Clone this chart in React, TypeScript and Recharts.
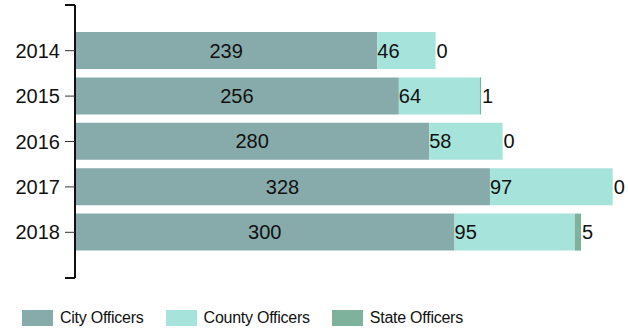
import React from 'react';
import { BarChart, Bar, XAxis, YAxis, LabelList, Legend, Customized } from 'recharts';

const years = ['2014', '2015', '2016', '2017', '2018'];
const cityOfficers = [239, 256, 280, 328, 300];
const countyOfficers = [46, 64, 58, 97, 95];
const stateOfficers = [0, 1, 0, 0, 5];

const seriesNames = ['City Officers', 'County Officers', 'State Officers'];
const seriesColors = ['#87abaa', '#a6e4db', '#7fb29c'];

const data = years.map((y, i) => ({
  year: y,
  city: cityOfficers[i],
  county: countyOfficers[i],
  state: stateOfficers[i],
}));

const W = 628;
const H = 328;
const MARGIN = { top: 5, right: 9, left: 0, bottom: 0 };
const Y_AXIS_W = 75;
const LEGEND_H = 50;
const FONT = 'Arial, "Liberation Sans", sans-serif';
const LABEL_SIZE = 20;

const renderLegend = (props: any) => {
  const payload = props.payload || [];
  return (
    <div
      style={{
        height: LEGEND_H,
        boxSizing: 'border-box',
        paddingTop: 29,
        paddingLeft: 22,
        display: 'flex',
        alignItems: 'center',
        fontFamily: FONT,
        fontSize: 16,
        letterSpacing: -0.25,
        color: '#111',
      }}
    >
      {payload.map((p: any, i: number) => (
        <div key={i} style={{ display: 'flex', alignItems: 'center', marginRight: 22, height: 16 }}>
          <div style={{ width: 31, height: 16, background: p.color, marginRight: 7 }} />
          <span style={{ lineHeight: '16px', whiteSpace: 'nowrap' }}>{p.value}</span>
        </div>
      ))}
    </div>
  );
};

const OuterTicks = () => {
  const x = Y_AXIS_W;
  const top = MARGIN.top;
  const bottom = H - MARGIN.bottom - LEGEND_H;
  return (
    <g>
      <line x1={x - 10} x2={x} y1={top} y2={top} stroke="#111" strokeWidth={2} />
      <line x1={x - 10} x2={x} y1={bottom} y2={bottom} stroke="#111" strokeWidth={2} />
    </g>
  );
};

const labelStyle = { fontSize: LABEL_SIZE, fill: '#111', fontFamily: FONT };

// State labels: placed after the end of the whole stack; the state segment width
// is derived from the county segment's pixel-per-unit ratio (same linear scale).
const StateLabel = (props: any) => {
  const { x, y, width, height, index } = props;
  const c = countyOfficers[index];
  const s = stateOfficers[index];
  const pxPerUnit = c ? width / c : 0;
  const endX = x + width + s * pxPerUnit;
  return (
    <text
      x={endX + 1}
      y={y + height / 2}
      dominantBaseline="central"
      textAnchor="start"
      style={labelStyle}
    >
      {s}
    </text>
  );
};

export default function App() {
  return (
    <div style={{ position: 'absolute', left: 0, top: 0, width: W, height: H, background: '#fff' }}>
      <BarChart width={W} height={H} data={data} layout="vertical" margin={MARGIN} barSize={37}>
        <XAxis type="number" hide domain={[0, 430]} />
        <YAxis
          type="category"
          dataKey="year"
          width={Y_AXIS_W}
          padding={{ top: 23, bottom: 23 }}
          tick={{ fontSize: LABEL_SIZE, fill: '#111', fontFamily: FONT }}
          tickLine={{ stroke: '#333', strokeWidth: 1 }}
          tickSize={10}
          tickMargin={5}
          axisLine={{ stroke: '#111', strokeWidth: 2 }}
        />
        <Legend verticalAlign="bottom" align="left" content={renderLegend} height={LEGEND_H} />
        <Bar dataKey="city" name={seriesNames[0]} stackId="a" fill={seriesColors[0]} isAnimationActive={false}>
          <LabelList dataKey="city" position="center" style={labelStyle} />
        </Bar>
        <Bar dataKey="county" name={seriesNames[1]} stackId="a" fill={seriesColors[1]} isAnimationActive={false}>
          <LabelList dataKey="county" position="insideLeft" offset={0} style={labelStyle} />
          <LabelList dataKey="state" content={StateLabel} />
        </Bar>
        <Bar dataKey="state" name={seriesNames[2]} stackId="a" fill={seriesColors[2]} isAnimationActive={false} />
        <Customized component={OuterTicks} />
      </BarChart>
    </div>
  );
}
